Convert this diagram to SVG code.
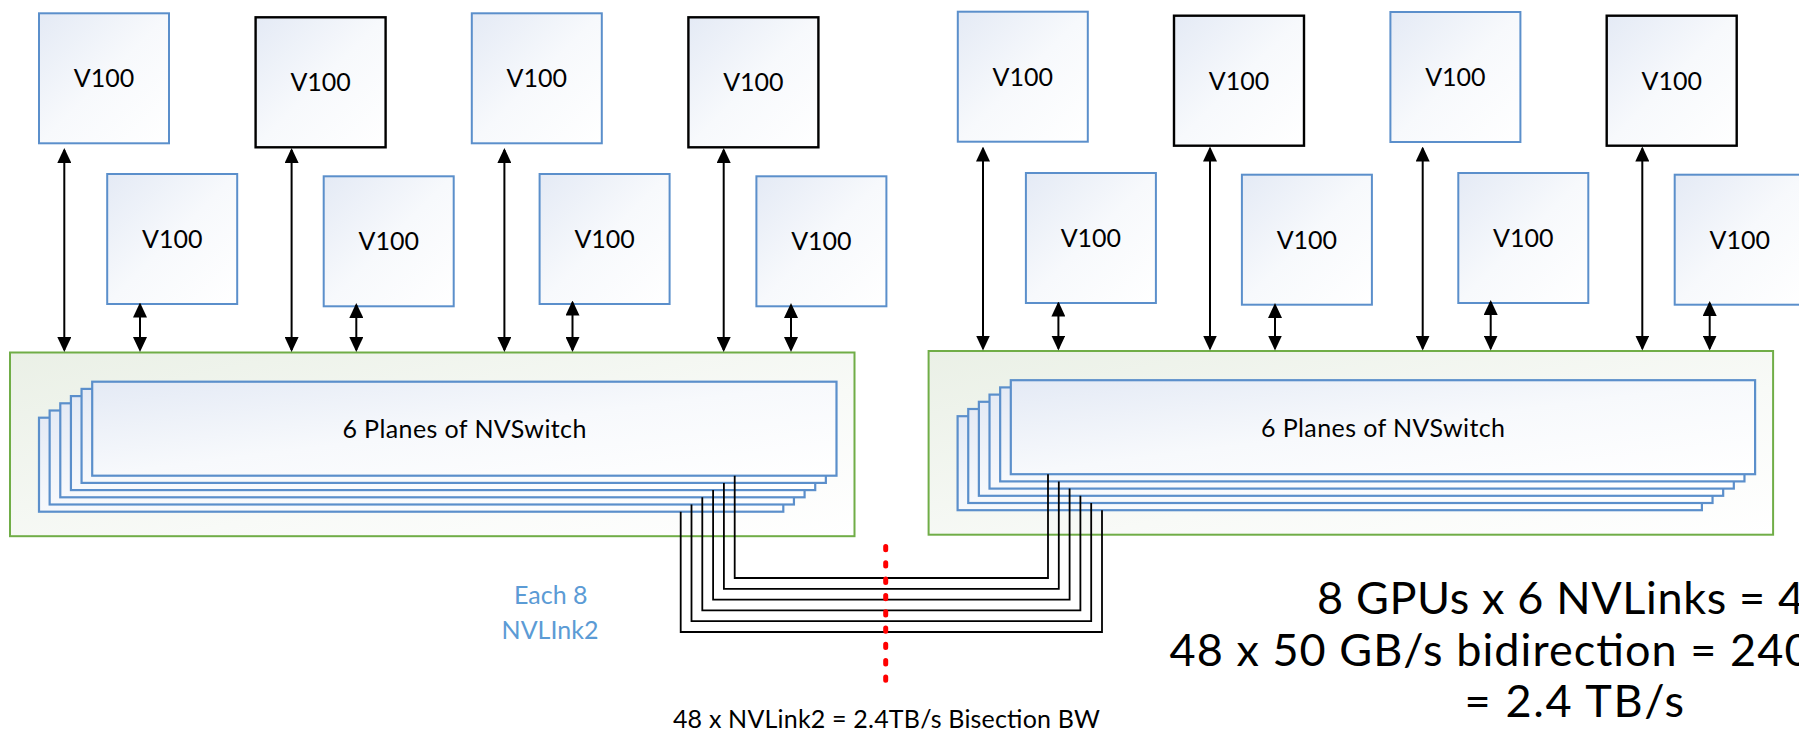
<svg xmlns="http://www.w3.org/2000/svg" width="1799" height="732" viewBox="0 0 1799 732">
  <defs>
    <linearGradient id="gBlue" x1="0" y1="0" x2="1" y2="1">
      <stop offset="0" stop-color="#E4EAF5"/>
      <stop offset="0.5" stop-color="#F7F9FC"/>
      <stop offset="1" stop-color="#FFFFFF"/>
    </linearGradient>
    <linearGradient id="gGreen" x1="0" y1="0" x2="1" y2="1">
      <stop offset="0" stop-color="#EAF0E6"/>
      <stop offset="0.6" stop-color="#F8FAF7"/>
      <stop offset="1" stop-color="#FFFFFF"/>
    </linearGradient>
    <marker id="ah" markerUnits="userSpaceOnUse" markerWidth="15" markerHeight="14" viewBox="0 0 15 14" refX="13" refY="7" orient="auto-start-reverse">
      <path d="M0,0 L15,7 L0,14 z" fill="#000"/>
    </marker>
    <style>
      .gpu { fill: url(#gBlue); stroke: #5B8FCB; stroke-width: 2; }
      .gpuk { fill: url(#gBlue); stroke: #000; stroke-width: 2.4; }
      .plane { fill: url(#gBlue); stroke: #5B8FCB; stroke-width: 2.2; }
      .box { fill: url(#gGreen); stroke: #70AD47; stroke-width: 2; }
      .lbl { font-family: Lato, "Liberation Sans", sans-serif; font-size: 25px; fill: #000; text-anchor: middle; }
      .blue { fill: #5B9BD5; }
      .big { font-family: Lato, "Liberation Sans", sans-serif; font-size: 45px; fill: #000; }
      .arr { stroke: #000; stroke-width: 2; fill: none; marker-start: url(#ah); marker-end: url(#ah); }
      .bundle { stroke: #000; stroke-width: 1.8; fill: none; stroke-linejoin: miter; }
      .cut { stroke: #FF0000; stroke-width: 5; stroke-linecap: round; stroke-dasharray: 3.3 13; fill: none; }
    </style>
  </defs>
  <rect x="0" y="0" width="1799" height="732" fill="#FFFFFF"/>

  <!-- Left switch -->
  <g id="switch-left">
    <rect class="box" x="10" y="352.5" width="844.5" height="183.7"/>
    <rect class="plane" x="39" y="417.7" width="744.3" height="94"/>
    <rect class="plane" x="49.64" y="410.5" width="744.3" height="94"/>
    <rect class="plane" x="60.28" y="403.3" width="744.3" height="94"/>
    <rect class="plane" x="70.92" y="396.1" width="744.3" height="94"/>
    <rect class="plane" x="81.56" y="388.9" width="744.3" height="94"/>
    <rect class="plane" x="92.2" y="381.7" width="744.3" height="94"/>
    <text class="lbl" x="464.4" y="438.3" textLength="244">6 Planes of NVSwitch</text>
  </g>

  <!-- Right switch -->
  <g id="switch-right">
    <rect class="box" x="928.6" y="351" width="844.5" height="183.7"/>
    <rect class="plane" x="957.6" y="416.2" width="744.3" height="94"/>
    <rect class="plane" x="968.24" y="409" width="744.3" height="94"/>
    <rect class="plane" x="978.88" y="401.8" width="744.3" height="94"/>
    <rect class="plane" x="989.52" y="394.6" width="744.3" height="94"/>
    <rect class="plane" x="1000.16" y="387.4" width="744.3" height="94"/>
    <rect class="plane" x="1010.8" y="380.2" width="744.3" height="94"/>
    <text class="lbl" x="1383" y="436.8" textLength="244">6 Planes of NVSwitch</text>
  </g>

  <!-- GPUs left -->
  <g id="gpu-1"><rect class="gpu" x="39" y="13.3" width="130" height="130"/><text class="lbl" x="104" y="87.3">V100</text></g>
  <g id="gpu-2"><rect class="gpuk" x="255.6" y="17.3" width="130" height="130"/><text class="lbl" x="320.6" y="91.3">V100</text></g>
  <g id="gpu-3"><rect class="gpu" x="471.8" y="13.3" width="130" height="130"/><text class="lbl" x="536.8" y="87.3">V100</text></g>
  <g id="gpu-4"><rect class="gpuk" x="688.4" y="17.3" width="130" height="130"/><text class="lbl" x="753.4" y="91.3">V100</text></g>
  <g id="gpu-5"><rect class="gpu" x="107.2" y="174" width="130" height="130"/><text class="lbl" x="172.2" y="248">V100</text></g>
  <g id="gpu-6"><rect class="gpu" x="323.7" y="176.3" width="130" height="130"/><text class="lbl" x="388.7" y="250.3">V100</text></g>
  <g id="gpu-7"><rect class="gpu" x="539.6" y="174" width="130" height="130"/><text class="lbl" x="604.6" y="248">V100</text></g>
  <g id="gpu-8"><rect class="gpu" x="756.4" y="176.3" width="130" height="130"/><text class="lbl" x="821.4" y="250.3">V100</text></g>

  <!-- GPUs right -->
  <g id="gpu-9"><rect class="gpu" x="957.8" y="11.7" width="130" height="130"/><text class="lbl" x="1022.8" y="85.7">V100</text></g>
  <g id="gpu-10"><rect class="gpuk" x="1174" y="15.7" width="130" height="130"/><text class="lbl" x="1239" y="89.7">V100</text></g>
  <g id="gpu-11"><rect class="gpu" x="1390.4" y="12" width="130" height="130"/><text class="lbl" x="1455.4" y="86">V100</text></g>
  <g id="gpu-12"><rect class="gpuk" x="1606.7" y="15.7" width="130" height="130"/><text class="lbl" x="1671.7" y="89.7">V100</text></g>
  <g id="gpu-13"><rect class="gpu" x="1025.9" y="173" width="130" height="130"/><text class="lbl" x="1090.9" y="247">V100</text></g>
  <g id="gpu-14"><rect class="gpu" x="1241.9" y="174.7" width="130" height="130"/><text class="lbl" x="1306.9" y="248.7">V100</text></g>
  <g id="gpu-15"><rect class="gpu" x="1458.3" y="173" width="130" height="130"/><text class="lbl" x="1523.3" y="247">V100</text></g>
  <g id="gpu-16"><rect class="gpu" x="1674.7" y="174.7" width="130" height="130"/><text class="lbl" x="1739.7" y="248.7">V100</text></g>

  <!-- Connectors -->
  <g id="connectors">
    <line class="arr" x1="64.3" y1="150" x2="64.3" y2="350"/>
    <line class="arr" x1="140" y1="304.5" x2="140" y2="350"/>
    <line class="arr" x1="291.6" y1="150" x2="291.6" y2="350"/>
    <line class="arr" x1="356.3" y1="305" x2="356.3" y2="350"/>
    <line class="arr" x1="504.4" y1="150" x2="504.4" y2="350"/>
    <line class="arr" x1="572.5" y1="302.5" x2="572.5" y2="350"/>
    <line class="arr" x1="723.7" y1="150" x2="723.7" y2="350"/>
    <line class="arr" x1="791" y1="305" x2="791" y2="350"/>

    <line class="arr" x1="983" y1="148.5" x2="983" y2="348.5"/>
    <line class="arr" x1="1058.4" y1="303.5" x2="1058.4" y2="348.5"/>
    <line class="arr" x1="1210" y1="148.5" x2="1210" y2="348.5"/>
    <line class="arr" x1="1275" y1="305" x2="1275" y2="348.5"/>
    <line class="arr" x1="1422.7" y1="148.5" x2="1422.7" y2="348.5"/>
    <line class="arr" x1="1490.7" y1="302" x2="1490.7" y2="348.5"/>
    <line class="arr" x1="1642.3" y1="148.5" x2="1642.3" y2="348.5"/>
    <line class="arr" x1="1709.7" y1="303" x2="1709.7" y2="348.5"/>

    <polyline class="bundle" points="734.7,475.7 734.7,578 1048,578 1048,474.2"/>
    <polyline class="bundle" points="723.9,482.9 723.9,588.8 1058.8,588.8 1058.8,481.4"/>
    <polyline class="bundle" points="713.1,490.1 713.1,599.6 1069.6,599.6 1069.6,488.6"/>
    <polyline class="bundle" points="702.3,497.3 702.3,610.4 1080.4,610.4 1080.4,495.8"/>
    <polyline class="bundle" points="691.5,504.5 691.5,621.2 1091.2,621.2 1091.2,503"/>
    <polyline class="bundle" points="680.7,511.7 680.7,632 1102,632 1102,510.2"/>

    <line class="cut" x1="885.7" y1="546.5" x2="885.7" y2="680.2"/>
  </g>

  <!-- Labels -->
  <g id="labels">
    <text class="lbl blue" x="550.8" y="604">Each 8</text>
    <text class="lbl blue" x="550" y="639">NVLInk2</text>
    <text class="lbl" x="886.4" y="728.3" textLength="427">48 x NVLink2 = 2.4TB/s Bisection BW</text>
    <text class="big" x="1317" y="614" textLength="487">8 GPUs x 6 NVLinks = 4</text>
    <text class="big" x="1169.5" y="665.5" textLength="641">48 x 50 GB/s bidirection = 240</text>
    <text class="big" x="1464.5" y="716.7" textLength="219.5">= 2.4 TB/s</text>
  </g>
</svg>
